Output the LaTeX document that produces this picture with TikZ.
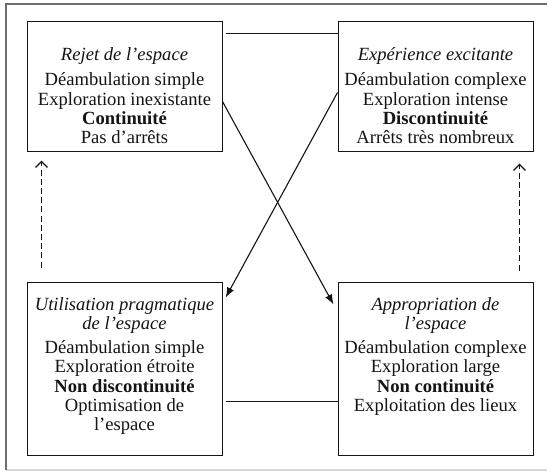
\documentclass[tikz,border=0pt]{standalone}
\usepackage{fontspec}
\setmainfont{Liberation Serif}
\usetikzlibrary{
    arrows.meta,
    positioning,
    calc
}
\definecolor{lineBlack}{RGB}{20, 20, 20}
\definecolor{frameGray}{RGB}{110, 110, 110}
\definecolor{frameLight}{RGB}{215, 215, 215}
\def\boxW{97.5pt}
\def\boxHtop{65pt}
\def\boxHbot{86.5pt}
\tikzset{
    stateBox/.style={
        rectangle,
        draw=lineBlack,
        line width=0.5pt,
        fill=white,
        minimum width=\boxW,
        inner sep=0pt
    },
    stateText/.style={
        anchor=north,
        align=center,
        inner sep=0pt,
        text=lineBlack,
        font=\fontsize{9.3}{9.65}\selectfont
    },
    link/.style={
        draw=lineBlack,
        line width=0.55pt
    },
    crossArrow/.style={
        link,
        -{Latex[length=5pt, width=3.8pt]}
    },
    dashArrow/.style={
        draw=lineBlack,
        line width=0.75pt,
        dash pattern=on 3pt off 1.6pt,
        -{Straight Barb[length=3pt, width=6pt, line width=0.65pt]}
    }
}

\begin{document}
\begin{tikzpicture}[x=0.5pt, y=-0.5pt]
    \useasboundingbox (0,0) rectangle (547,472);
    \fill[white] (0,0) rectangle (547,472);

    % Frame
    \draw[frameLight, line width=0.8pt] (6,470) -- (547,470);
    \draw[frameGray, line width=0.9pt] (6,470) -- (6,4) -- (547,4);

    % 1. Top boxes
    \node[stateBox, minimum height=\boxHtop] (rejet) at (124.5,86) {};
    \node[stateBox, minimum height=\boxHtop] (exper) at (435.5,86) {};

    % 2. Bottom boxes
    \node[stateBox, minimum height=\boxHbot] (util) at (124.5,368.5) {};
    \node[stateBox, minimum height=\boxHbot] (appro) at (435.5,368.5) {};

    % Box contents
    \node[stateText] (rejetTxt) at ([yshift=-13.5pt]rejet.north) {
        \textit{Rejet de l'espace}\\[2.8pt]
        Déambulation simple\\
        Exploration inexistante\\
        \textbf{Continuité}\\
        Pas d'arrêts
    };
    \node[stateText] (experTxt) at ([yshift=-13.5pt]exper.north) {
        \textit{Expérience excitante}\\[2.8pt]
        Déambulation complexe\\
        Exploration intense\\
        \textbf{Discontinuité}\\
        Arrêts très nombreux
    };
    \node[stateText] (utilTxt) at ([yshift=-7.8pt]util.north) {
        \textit{Utilisation pragmatique}\\
        \textit{de l'espace}\\[2.3pt]
        Déambulation simple\\
        Exploration étroite\\
        \textbf{Non discontinuité}\\
        Optimisation de\\
        l'espace
    };
    \node[stateText] (approTxt) at ([yshift=-7.8pt]appro.north) {
        \textit{Appropriation de}\\
        \textit{l'espace}\\[2.3pt]
        Déambulation complexe\\
        Exploration large\\
        \textbf{Non continuité}\\
        Exploitation des lieux
    };

    % Connections
    \draw[link] ([xshift=1.8pt, yshift=-6.5pt]rejet.north east) -- ([yshift=-6.5pt]exper.north west);
    \draw[link] ([xshift=1.8pt, yshift=27pt]util.south east) -- ([yshift=27pt]appro.south west);

    \draw[crossArrow] ([yshift=-40.5pt]rejet.north east) -- ([xshift=-2pt, yshift=-11.5pt]appro.north west);
    \draw[crossArrow] ([yshift=-36pt]exper.north west) -- ([xshift=1.6pt, yshift=-8pt]util.north east);

    % Dashed returns
    \draw[dashArrow] ([xshift=7.5pt, yshift=7pt]util.north west) -- ([xshift=7.5pt, yshift=-4.5pt]rejet.south west);
    \draw[dashArrow] ([xshift=-7pt, yshift=5.5pt]appro.north east) -- ([xshift=-7pt, yshift=-6pt]exper.south east);
\end{tikzpicture}
\end{document}
